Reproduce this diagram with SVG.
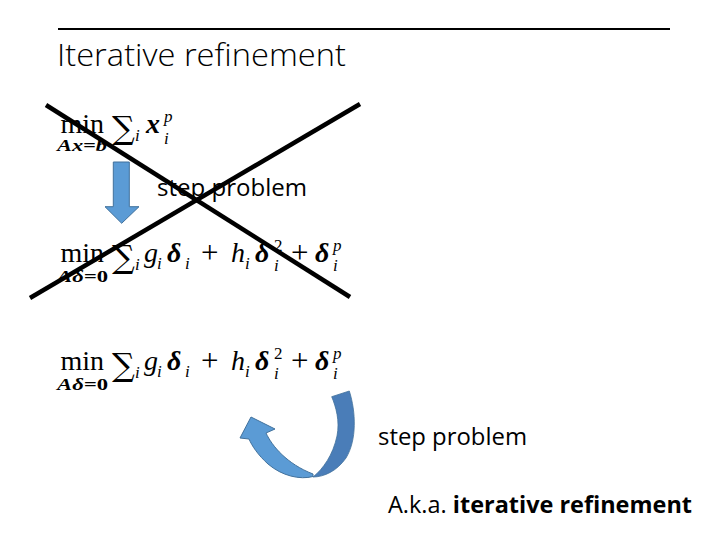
<svg xmlns="http://www.w3.org/2000/svg" width="720" height="540" viewBox="0 0 720 540">
<style>
.title{font-family:"Open Sans","Liberation Sans",sans-serif;font-weight:300;font-size:32px;fill:#000}
.body{font-family:"Open Sans","Liberation Sans",sans-serif;font-size:24px;fill:#000}
.m{font-family:"Liberation Serif","DejaVu Serif",serif;fill:#000;font-size:28px}
.sum{font-family:"DejaVu Serif","Liberation Serif",serif;font-size:32px}
.sub{font-size:17px;font-style:italic}
.up{font-size:17px}
.pl{font-size:31px}
.it{font-style:italic}
.bi{font-style:italic;font-weight:bold}
.lim{font-family:"Liberation Serif","DejaVu Serif",serif;font-size:16px;font-style:italic;font-weight:bold}
.cross{stroke:#000;stroke-width:4.5;stroke-linecap:butt}
.arrow{fill:#5b9bd5;stroke:#41719c;stroke-width:1}
</style>
<rect width="720" height="540" fill="#fff"/>
<g id="header">
<line x1="58" y1="29" x2="670" y2="29" stroke="#000" stroke-width="2"/>
<text class="title" x="57" y="66" textLength="289" lengthAdjust="spacingAndGlyphs">Iterative refinement</text>
</g>
<g id="formula1">
<text class="m" x="60.5" y="133"><tspan>min</tspan><tspan class="sum" x="112" y="139">∑</tspan><tspan class="sub" x="135" y="141">i</tspan><tspan class="bi" x="146" y="133">x</tspan><tspan class="sub" x="164" y="122">p</tspan><tspan class="sub" x="164" y="144">i</tspan></text>
<text class="lim" x="57" y="151" textLength="50" lengthAdjust="spacingAndGlyphs">Ax=b</text>
</g>
<g id="formula2">
<text class="m" x="60.5" y="262"><tspan>min</tspan><tspan class="sum" x="112" y="268">∑</tspan><tspan class="sub" x="135" y="270">i</tspan><tspan class="it" x="144" y="262">g</tspan><tspan class="sub" x="157" y="269">i</tspan><tspan class="bi" x="167" y="262">δ</tspan><tspan class="sub" x="185" y="269">i</tspan><tspan class="pl" x="201" y="263">+</tspan><tspan class="it" x="231" y="262">h</tspan><tspan class="sub" x="245" y="269">i</tspan><tspan class="bi" x="255" y="262">δ</tspan><tspan class="up" x="274" y="251">2</tspan><tspan class="sub" x="274" y="271">i</tspan><tspan class="pl" x="291" y="263">+</tspan><tspan class="bi" x="315" y="262">δ</tspan><tspan class="sub" x="333" y="251">p</tspan><tspan class="sub" x="333" y="271">i</tspan></text>
<text class="lim" x="57" y="282" textLength="51" lengthAdjust="spacingAndGlyphs">Aδ=<tspan font-style="normal">0</tspan></text>
</g>
<g id="formula3">
<text class="m" x="60.5" y="370"><tspan>min</tspan><tspan class="sum" x="112" y="376">∑</tspan><tspan class="sub" x="135" y="378">i</tspan><tspan class="it" x="144" y="370">g</tspan><tspan class="sub" x="157" y="377">i</tspan><tspan class="bi" x="167" y="370">δ</tspan><tspan class="sub" x="185" y="377">i</tspan><tspan class="pl" x="201" y="371">+</tspan><tspan class="it" x="231" y="370">h</tspan><tspan class="sub" x="245" y="377">i</tspan><tspan class="bi" x="255" y="370">δ</tspan><tspan class="up" x="274" y="359">2</tspan><tspan class="sub" x="274" y="379">i</tspan><tspan class="pl" x="291" y="371">+</tspan><tspan class="bi" x="315" y="370">δ</tspan><tspan class="sub" x="333" y="359">p</tspan><tspan class="sub" x="333" y="379">i</tspan></text>
<text class="lim" x="57" y="390" textLength="51" lengthAdjust="spacingAndGlyphs">Aδ=<tspan font-style="normal">0</tspan></text>
</g>
<g id="label-step1">
<text class="body" x="157" y="196" textLength="150" lengthAdjust="spacingAndGlyphs">step problem</text>
</g>
<g id="label-step2">
<text class="body" x="378" y="445" textLength="149" lengthAdjust="spacingAndGlyphs">step problem</text>
</g>
<g id="label-aka">
<text class="body" x="388" y="513" textLength="304" lengthAdjust="spacingAndGlyphs">A.k.a. <tspan font-weight="bold">iterative refinement</tspan></text>
</g>
<g id="connectors">
<path class="arrow" d="M113.3,162 L129.3,162 L129.3,206.7 L139,206.7 L121.7,223.3 L105,206.7 L113.3,206.7 Z"/>
<path fill="#4a7db8" stroke="#41719c" stroke-width="0.8" d="M331.7,396.7 L349.3,391 C356,412 357,440 346,458 C337,471 324,477 313,477 C323,469 333,455 337,436 C340,421 336,407 331.7,396.7 Z"/>
<path class="arrow" stroke-width="0.8" d="M313,476.5 C300,480 282,476 268,464 C258,455 252,446 249,439 L240,438 L251,417 L275,429 L266,433 C272,446 287,464 313,474 Z"/>
</g>
<g id="cross">
<line class="cross" x1="46" y1="105" x2="350" y2="297"/>
<line class="cross" x1="30" y1="298" x2="360" y2="104"/>
</g>
</svg>
